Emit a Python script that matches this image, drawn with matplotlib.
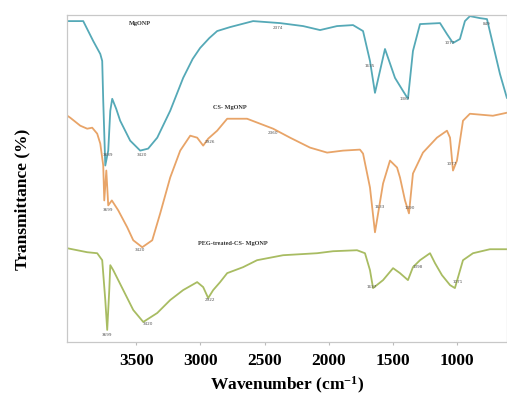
import numpy as np
import matplotlib.pyplot as plt

plt.rcParams["mathtext.fontset"] = "custom"
plt.rcParams["mathtext.rm"] = "Liberation Serif:bold"
plt.rcParams["mathtext.it"] = "Liberation Serif:bold"
plt.rcParams["mathtext.bf"] = "Liberation Serif:bold"

# FTIR spectra (wavenumber in cm-1, transmittance in arbitrary offset units)
mg_wn = [4037, 3913, 3835, 3780, 3765, 3757, 3741, 3718, 3702, 3687, 3656, 3625,
         3547, 3469, 3407, 3336, 3235, 3134, 3060, 3002, 2930, 2869, 2768, 2589, 2379, 2199,
         2067, 1935, 1810, 1732, 1678, 1639, 1600, 1561, 1483, 1421, 1382, 1343,
         1288, 1132, 1078, 1031, 977, 938, 899, 821, 766, 720, 665, 611]
mg_t = [322, 322, 302, 289, 282, 242, 177, 192, 232, 244, 234, 222,
        202, 192, 194, 205, 232, 265, 284, 295, 305, 312, 316, 322, 320, 317,
        313, 317, 318, 312, 282, 250, 272, 294, 265, 252, 244, 292,
        319, 320, 309, 300, 304, 322, 327, 325, 324, 299, 269, 245]

cs_wn = [4037, 4014, 3936, 3882, 3843, 3804, 3780, 3757, 3749, 3733, 3718, 3690,
         3640, 3570, 3523, 3453, 3375, 3313, 3235, 3157, 3079, 3025, 2978, 2939,
         2869, 2791, 2636, 2433, 2301, 2145, 2012, 1888, 1756, 1732, 1678, 1639,
         1576, 1522, 1467, 1444, 1405, 1374, 1343, 1265, 1156, 1078, 1054, 1031,
         1000, 953, 899, 720, 611]
cs_t = [227, 225, 217, 214, 215, 209, 199, 177, 142, 172, 137, 142,
        132, 115, 102, 95, 102, 129, 165, 192, 207, 205, 197, 204,
        212, 224, 224, 214, 205, 195, 190, 192, 193, 189, 155, 110,
        159, 182, 175, 165, 142, 129, 169, 190, 205, 212, 205, 172,
        182, 222, 229, 227, 230]

peg_wn = [4037, 3882, 3804, 3765, 3741, 3726, 3710, 3702, 3679, 3601, 3523, 3445,
          3336, 3235, 3134, 3025, 2978, 2939, 2900, 2846, 2791, 2667, 2558, 2355,
          2090, 1966, 1779, 1717, 1678, 1654, 1576, 1498, 1444, 1382, 1343, 1288,
          1210, 1171, 1117, 1054, 1016, 953, 875, 743, 611]
peg_t = [94, 90, 89, 82, 42, 12, 52, 77, 72, 52, 32, 20,
         29, 42, 52, 60, 55, 44, 52, 60, 69, 75, 82, 87,
         89, 91, 92, 89, 72, 54, 62, 74, 69, 62, 75, 82,
         89, 79, 67, 57, 54, 82, 89, 93, 93]

# peak labels: text and wavenumber where they sit
mg_peaks = ["3689", "3420", "2374", "1635", "1387", "1077", "849"]
mg_peak_wn = [3718, 3453, 2394, 1678, 1405, 1054, 766]
cs_peaks = ["3699", "3420", "2926", "2360", "1633", "1390", "1077"]
cs_peak_wn = [3718, 3469, 2924, 2433, 1600, 1366, 1039]
peg_peaks = ["3699", "3420", "2922", "1637", "1398", "1071"]
peg_peak_wn = [3726, 3407, 2924, 1662, 1304, 992]

series = [
    ("MgONP", mg_wn, mg_t, mg_peaks, mg_peak_wn, "#55a9b7", (3469, 320)),
    ("CS- MgONP", cs_wn, cs_t, cs_peaks, cs_peak_wn, "#e8a468", (2768, 235)),
    ("PEG-treated-CS- MgONP", peg_wn, peg_t, peg_peaks, peg_peak_wn, "#a8bc62", (2745, 99)),
]

fig = plt.figure(figsize=(5.07, 3.98), dpi=100)
ax = fig.add_axes([0.132, 0.141, 0.868, 0.821])

for name, wn, t, peaks, peak_wn, color, name_pos in series:
    ax.plot(wn, t, color=color, lw=1.3, solid_joinstyle="round")
    ax.text(name_pos[0], name_pos[1], name, fontsize=4.5, fontweight="bold",
            family="Liberation Serif", ha="center", va="center", color="#333333")
    # peak values just below the curve
    order = np.argsort(wn)
    for lab, pw in zip(peaks, peak_wn):
        py = np.interp(pw, np.array(wn)[order], np.array(t)[order])
        ax.annotate(lab, (pw, py), xytext=(0, -2), textcoords="offset points",
                    fontsize=3, ha="center", va="top", color="#555555")

ax.set_xlim(4040, 610)
ax.set_ylim(0, 328)
ax.set_yticks([])
ax.set_xticks([3500, 3000, 2500, 2000, 1500, 1000])
ax.tick_params(axis="x", length=2, color="#bbbbbb", pad=6)
for lab in ax.get_xticklabels():
    lab.set_fontfamily("Liberation Serif")
    lab.set_fontweight("bold")
    lab.set_fontsize(12.5)
for sp in ax.spines.values():
    sp.set_color("#c8c8c8")
    sp.set_linewidth(0.9)

ax.set_xlabel("Wavenumber (cm$^{-1}$)", family="Liberation Serif",
              fontweight="bold", fontsize=12.5, labelpad=4)
fig.text(0.045, 0.5, "Transmittance (%)", rotation=90, family="Liberation Serif",
         fontweight="bold", fontsize=12.5, ha="center", va="center")

fig.savefig("out.png", dpi=100)
